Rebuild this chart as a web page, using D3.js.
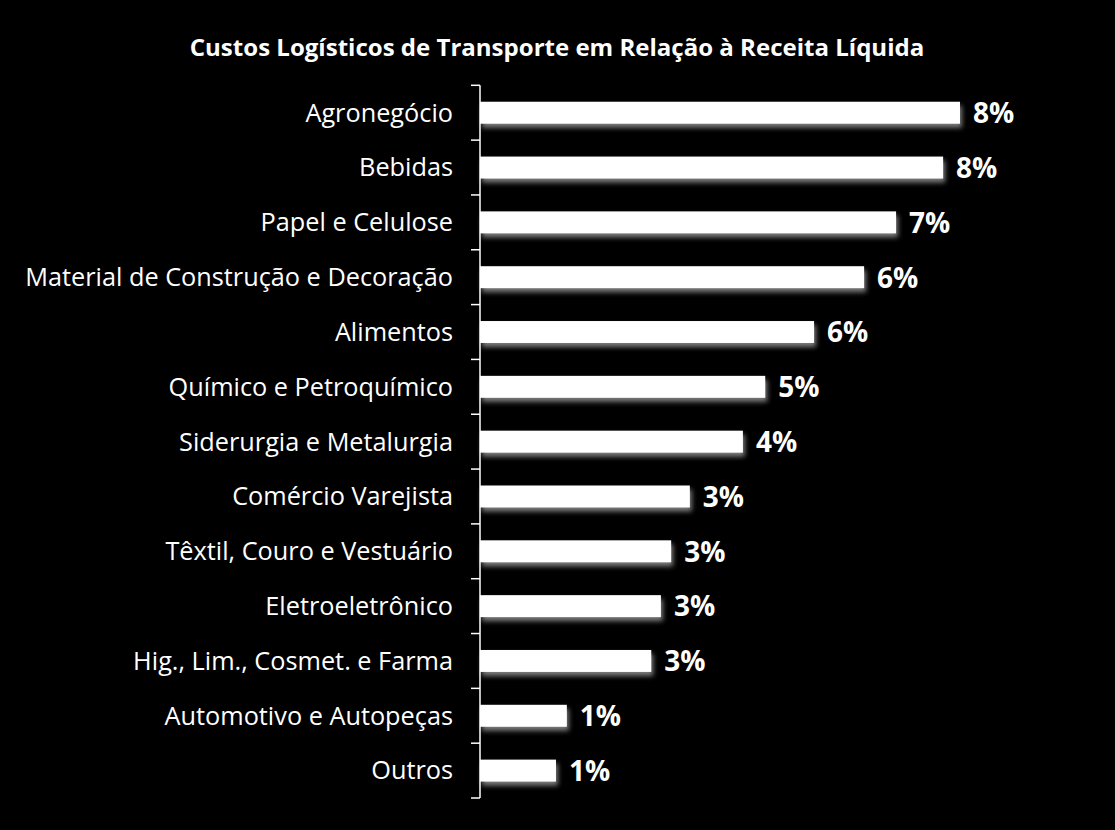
<!DOCTYPE html>
<html><head><meta charset="utf-8">
<script src="https://cdn.jsdelivr.net/npm/d3@7"></script>
<style>
html,body{margin:0;padding:0;background:#000;}
svg{display:block;}
</style></head>
<body>
<script>
const categories = ["Agronegócio","Bebidas","Papel e Celulose","Material de Construção e Decoração","Alimentos","Químico e Petroquímico","Siderurgia e Metalurgia","Comércio Varejista","Têxtil, Couro e Vestuário","Eletroeletrônico","Hig., Lim., Cosmet. e Farma","Automotivo e Autopeças","Outros"];
const values = [7.96, 7.68, 6.90, 6.37, 5.54, 4.73, 4.36, 3.48, 3.17, 3.00, 2.84, 1.44, 1.26];
const title = "Custos Logísticos de Transporte em Relação à Receita Líquida";

const W = 1115, H = 830;
const svg = d3.select("body").append("svg").attr("width", W).attr("height", H).style("background", "#000");

const defs = svg.append("defs");
const f = defs.append("filter").attr("id", "sh").attr("x", "-5%").attr("y", "-30%").attr("width", "115%").attr("height", "190%");
f.append("feDropShadow").attr("dx", 2).attr("dy", 4).attr("stdDeviation", 2.5).attr("flood-color", "#8a8a8a").attr("flood-opacity", 0.9);

const x0 = 480;
const x = d3.scaleLinear().domain([0, 9]).range([x0, x0 + 9 * 60.3]);
const y = d3.scaleBand().domain(categories).range([85.3, 798]).paddingInner(0.6).paddingOuter(0.3);

// title
const t = svg.append("text").text(title)
  .attr("x", 557).attr("y", 56).attr("text-anchor", "middle")
  .attr("fill", "#fff").attr("font-family", "Open Sans").attr("font-weight", "bold").attr("font-size", 24);
let tw = t.node().getComputedTextLength();
t.attr("font-size", 24 * 735 / tw);

// bars
svg.append("g").selectAll("rect").data(categories).join("rect")
  .attr("x", x(0)).attr("y", d => y(d)).attr("height", y.bandwidth())
  .attr("width", (d, i) => x(values[i]) - x(0))
  .attr("fill", "#fff").attr("filter", "url(#sh)");

// axis
const step = y.step();
const ax = svg.append("g").attr("stroke", "#fff").attr("stroke-width", 1.5);
ax.append("line").attr("x1", x0).attr("x2", x0).attr("y1", y.range()[0]).attr("y2", y.range()[1]);
const bounds = d3.range(categories.length + 1).map(i => y.range()[0] + i * step);
ax.selectAll("line.t").data(bounds).join("line").attr("class", "t")
  .attr("x1", x0 - 9).attr("x2", x0).attr("y1", d => d).attr("y2", d => d);

// category labels
const lab = svg.append("g").selectAll("text").data(categories).join("text")
  .text(d => d).attr("x", 453).attr("text-anchor", "end")
  .attr("y", d => y(d) + y.bandwidth() / 2).attr("dy", "0.35em")
  .attr("fill", "#fff").attr("font-family", "Open Sans").attr("font-size", 20);
const lw = lab.nodes()[3].getComputedTextLength();
lab.attr("font-size", 20 * 428 / lw);

// value labels
svg.append("g").selectAll("text").data(categories).join("text")
  .text((d, i) => Math.round(values[i]) + "%")
  .attr("x", (d, i) => x(values[i]) + 13)
  .attr("y", d => y(d) + y.bandwidth() / 2).attr("dy", "0.37em")
  .attr("fill", "#fff").attr("font-family", "Open Sans").attr("font-weight", "bold").attr("font-size", 28);
</script>
</body></html>
